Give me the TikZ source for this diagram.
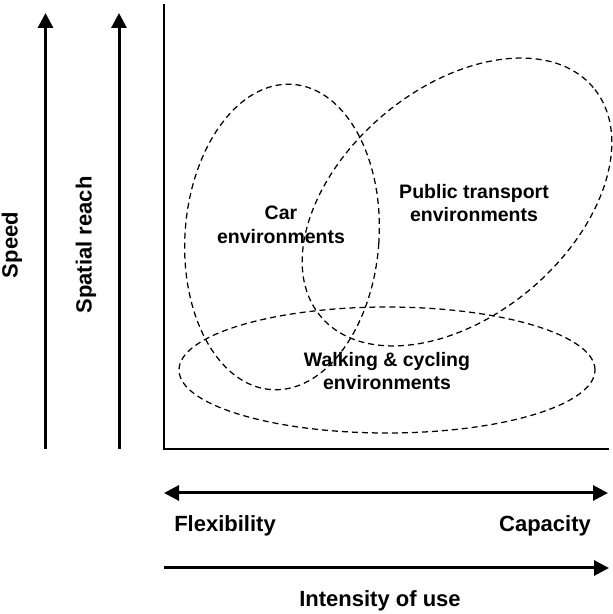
\documentclass[tikz,border=0pt]{standalone}
\usepackage{fontspec}
\setmainfont{Liberation Sans}
\usetikzlibrary{arrows.meta}

\tikzset{
  bigarrow/.style={line width=3pt, -{Triangle[length=15pt,width=15pt]}},
  twoarrow/.style={line width=3pt, {Triangle[length=15pt,width=15pt]}-{Triangle[length=15pt,width=15pt]}},
  envring/.style={dashed, line width=1.25pt, dash pattern=on 6pt off 4pt},
  axlabel/.style={font=\fontsize{22}{26}\selectfont\bfseries},
  envlabel/.style={align=center, font=\fontsize{19.5}{23.5}\selectfont\bfseries}
}

\begin{document}
\begin{tikzpicture}[x=1pt,y=1pt]

  \useasboundingbox (0,0) rectangle (613,614);

  \def\xmin{164}
  \def\xmax{609}
  \def\ymin{165}
  \def\ymax{610}

  % axes
  \coordinate (top) at (\xmin,\ymax);
  \coordinate (origin) at (\xmin,\ymin);
  \coordinate (right) at (\xmax,\ymin);
  \draw[line width=2pt] (top) -- (origin) -- (right);

  % vertical arrows
  \foreach \x/\name/\txt/\lx in {45.5/speed/Speed/12, 119/reach/Spatial reach/86} {
    \coordinate (\name-s) at (\x,165);
    \coordinate (\name-e) at (\x,601);
    \draw[bigarrow] (\name-s) -- (\name-e);
    \node[axlabel, rotate=90] (\name) at (\lx,369) {\txt};
  }

  % environments
  \draw[envring, rotate around={-4:(282,377)}] (282,377) ellipse [x radius=97, y radius=153];
  \draw[envring, rotate around={40:(457,412)}] (457,412) ellipse [x radius=178, y radius=114];
  \draw[envring] (387,244) ellipse [x radius=208, y radius=63];

  \node[envlabel] (car) at (281,389) {Car\\environments};
  \node[envlabel] (public) at (474,411) {Public transport\\environments};
  \node[envlabel] (walk) at (387,243) {Walking \& cycling\\environments};

  % flexibility -- capacity
  \coordinate (flex-s) at (164,121);
  \coordinate (flex-e) at (608,121);
  \draw[twoarrow] (flex-s) -- (flex-e);
  \node[axlabel] (flex) at (225,88) {Flexibility};
  \node[axlabel] (cap) at (545,88) {Capacity};

  % intensity
  \coordinate (use-s) at (164,46);
  \coordinate (use-e) at (609,46);
  \draw[bigarrow] (use-s) -- (use-e);
  \node[axlabel] (use) at (380,13) {Intensity of use};
\end{tikzpicture}
\end{document}
